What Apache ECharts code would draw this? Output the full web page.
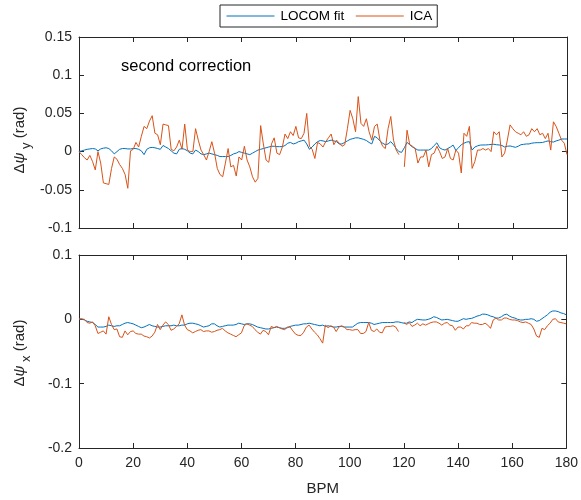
<!DOCTYPE html>
<html>
<head>
<meta charset="utf-8">
<script src="https://cdn.jsdelivr.net/npm/echarts@6/dist/echarts.min.js"></script>
<style>
  html, body { margin: 0; padding: 0; background: #fff; }
  #chart { width: 581px; height: 500px; }
</style>
</head>
<body>
<div id="chart"></div>
<script>
// Beam-position sampling grid (BPM index 0..180)
const bpm = Array.from({ length: 181 }, (_, i) => i);

// Vertical plane (Δψ_y), second correction
const locomY = [
  0, 0.001, 0.002, 0.003, 0.0035, 0.004, 0.0035, 0.001, 0.0035, 0.0045,
  0.005, 0.004, 0.001, -0.003, 0, 0.003, 0.004, 0.004, 0.0035, 0.0035,
  0.004, 0.004, 0.003, 0.001, -0.004, 0.003, 0.005, 0.0055, 0.005, 0.004,
  0.003, 0.008, 0.006, 0.004, 0.001, -0.002, -0.003, 0.003, 0.004, 0.003,
  0.001, -0.002, -0.003, 0.002, 0, -0.003, -0.004, -0.003, -0.002, -0.003,
  -0.004, -0.005, -0.0065, -0.0065, -0.0065, -0.0065, -0.005, -0.003, -0.002, 0,
  -0.001, -0.002, -0.003, -0.004, -0.002, 0, 0.002, 0.003, 0.004, 0.005,
  0.006, 0.007, 0.007, 0.0065, 0.0065, 0.0065, 0.008, 0.011, 0.012, 0.010,
  0.011, 0.013, 0.014, 0.015, 0.010, 0.003, 0.006, 0.010, 0.013, 0.0145,
  0.014, 0.013, 0.014, 0.015, 0.014, 0.013, 0.010, 0.010, 0.012, 0.014,
  0.016, 0.017, 0.018, 0.018, 0.017, 0.016, 0.0145, 0.012, 0.010, 0.020,
  0.018, 0.014, 0.011, 0.009, 0.010, 0.013, 0.009, 0.004, 0, -0.001,
  0.005, 0.012, 0.009, 0.006, 0.004, 0.002, 0.002, 0.002, 0.002, 0.002,
  0.004, 0.008, 0.0115, 0.005, 0.003, 0.002, 0.004, 0.006, 0.0085, 0.0015,
  0.005, 0.009, 0.011, 0.0125, 0.013, 0.002, 0.006, 0.0075, 0.0085, 0.0087,
  0.0087, 0.009, 0.0093, 0.0096, 0.009, 0.0087, 0.008, 0.006, 0.007, 0.0074,
  0.0065, 0.0056, 0.007, 0.009, 0.0095, 0.010, 0.010, 0.011, 0.0115, 0.0117,
  0.0117, 0.012, 0.013, 0.014, 0.013, 0.0125, 0.014, 0.015, 0.0165, 0.0165,
  0.0165
];
const icaY = [
  0, -0.004, -0.008, -0.011, -0.005, -0.013, -0.024, 0, -0.015, -0.041,
  -0.042, -0.043, -0.022, -0.007, -0.010, -0.017, -0.022, -0.030, -0.048, 0.001,
  0.003, 0.012, 0.006, 0.020, 0.033, 0.030, 0.040, 0.047, 0.024, 0.022,
  0.009, 0.036, 0.035, 0.034, 0.003, 0.001, 0.006, 0.015, 0.003, 0.036,
  0.002, 0, 0, 0.030, 0.015, 0.002, -0.004, -0.011, 0, 0.013,
  -0.002, -0.022, -0.030, -0.033, -0.015, 0.004, -0.020, -0.018, -0.032, -0.007,
  -0.011, 0.007, -0.011, -0.020, -0.033, -0.040, -0.035, 0.034, 0.010, -0.011,
  -0.014, 0.010, 0.018, -0.002, -0.004, 0.006, 0.023, 0.017, 0.026, 0.021,
  0.033, 0.018, 0.017, 0.024, 0.050, 0.007, 0.003, -0.009, 0.012, 0.010,
  0.006, 0.013, 0.018, 0.023, 0.009, 0.015, 0.011, 0.007, 0.009, 0.030,
  0.054, 0.043, 0.026, 0.072, 0.037, 0.033, 0.043, 0.026, 0.015, 0.033,
  0.036, 0.015, 0.007, 0.004, 0.030, 0.046, 0.015, 0.002, -0.004, null,
  -0.020, 0.028, 0.009, 0.007, 0.004, -0.015, -0.007, -0.007, 0.002, -0.020,
  -0.004, -0.002, 0.007, 0, -0.009, -0.007, 0.004, -0.009, -0.011, 0.002,
  -0.002, -0.028, 0.024, 0.020, 0.033, -0.022, -0.013, 0.002, 0.002, 0.004,
  0.002, 0.004, 0, 0.026, 0.022, 0.026, -0.007, -0.002, 0.015, 0.035,
  0.030, 0.026, 0.024, 0.022, 0.026, 0.020, 0.022, 0.030, 0.026, 0.030,
  0.022, 0.024, 0.017, 0.024, 0.002, 0.039, 0.033, 0.024, 0.015, 0.011,
  -0.004
];

// Horizontal plane (Δψ_x)
const locomX = [
  0.0005, 0.0005, -0.001, -0.003, -0.004, -0.005, -0.008, -0.012, -0.012, -0.012,
  -0.011, -0.009, -0.010, -0.011, -0.010, -0.010, -0.008, -0.006, -0.005, -0.006,
  -0.007, -0.009, -0.011, -0.013, -0.012, -0.010, -0.008, -0.010, -0.011, -0.012,
  -0.012, -0.011, -0.010, -0.010, -0.010, -0.009, -0.010, -0.010, -0.009, -0.009,
  -0.007, -0.006, -0.006, -0.007, -0.008, -0.010, -0.012, -0.011, -0.010, -0.007,
  -0.007, -0.010, -0.012, -0.011, -0.010, -0.009, -0.009, -0.009, -0.008, -0.006,
  -0.007, -0.008, -0.007, -0.007, -0.008, -0.010, -0.012, -0.013, -0.014, -0.015,
  -0.015, -0.014, -0.013, -0.012, -0.013, -0.014, -0.014, -0.013, -0.011, -0.010,
  -0.009, -0.009, -0.008, -0.007, -0.007, -0.006, -0.007, -0.008, -0.009, -0.010,
  -0.009, -0.011, -0.010, -0.011, -0.012, -0.012, -0.011, -0.011, -0.012, -0.012,
  -0.012, -0.012, -0.009, -0.006, -0.005, -0.005, -0.005, -0.005, -0.006, -0.008,
  -0.007, -0.006, -0.005, -0.005, -0.005, -0.005, -0.005, -0.004, -0.004, -0.005,
  -0.006, -0.006, -0.004, -0.005, -0.002, 0, -0.0005, -0.001, -0.001, 0,
  0.0015, 0.004, 0.003, 0.001, -0.001, -0.0005, 0, -0.001, -0.002, -0.003,
  -0.003, -0.001, 0.001, 0, 0.001, 0.0015, 0.003, 0.005, 0.006, 0.008,
  0.008, 0.007, 0.005, 0.004, 0.002, 0.002, 0.004, 0.007, 0.008, 0.005,
  0.003, 0.002, 0, -0.001, -0.001, 0, 0, 0.001, 0, -0.003,
  -0.002, 0.001, 0.004, 0.007, 0.011, 0.013, 0.013, 0.012, 0.010, 0.009,
  0.007
];
const icaX = [
  0.0005, 0.0005, 0, -0.005, -0.006, -0.004, -0.010, -0.022, -0.020, -0.018,
  -0.023, 0.004, -0.008, -0.016, -0.015, -0.027, -0.028, -0.018, -0.024, -0.019,
  -0.018, -0.022, -0.023, -0.023, -0.026, -0.027, -0.029, -0.026, -0.020, -0.008,
  -0.016, -0.009, -0.004, -0.008, -0.017, -0.015, -0.011, -0.007, 0.007, -0.009,
  -0.016, -0.018, -0.021, -0.019, -0.017, -0.016, -0.019, -0.018, -0.018, -0.020,
  -0.019, -0.017, -0.016, -0.014, -0.018, -0.021, -0.023, -0.025, -0.027, -0.024,
  -0.021, -0.010, -0.007, -0.009, -0.011, -0.016, -0.020, -0.023, -0.017, -0.019,
  -0.024, -0.011, -0.013, -0.011, -0.013, -0.015, -0.016, -0.012, -0.012, -0.018,
  -0.023, -0.025, -0.025, -0.020, -0.012, -0.009, -0.015, -0.020, -0.024, -0.030,
  -0.037, -0.009, -0.013, -0.010, -0.012, -0.019, -0.012, -0.010, -0.012, -0.016,
  -0.016, -0.017, -0.016, -0.016, -0.022, -0.022, -0.019, -0.005, -0.017, -0.019,
  -0.015, -0.020, -0.021, -0.012, -0.011, -0.011, -0.010, -0.012, -0.019, null,
  -0.005, -0.008, -0.005, -0.011, -0.009, -0.006, -0.010, -0.007, -0.009, -0.007,
  -0.005, -0.004, -0.004, -0.006, -0.009, -0.006, -0.005, -0.009, -0.010, -0.017,
  -0.012, -0.012, -0.015, -0.010, -0.010, -0.005, -0.006, -0.006, -0.008, -0.008,
  -0.006, -0.009, -0.014, -0.001, 0.002, -0.001, -0.001, 0.002, 0.002, 0,
  -0.001, -0.001, -0.002, -0.004, -0.005, -0.004, -0.006, -0.008, -0.015, -0.026,
  -0.028, -0.014, -0.016, -0.010, -0.006, 0, 0.001, -0.004, -0.005, -0.006,
  -0.007
];

const seriesNames = ['LOCOM fit', 'ICA'];
const xTicks = [0, 20, 40, 60, 80, 100, 120, 140, 160, 180];

const FONT = '"Liberation Sans", Arial, Helvetica, sans-serif';
const AXIS_COLOR = '#262626';
const BLUE = '#0072BD';
const ORANGE = '#D95319';

const chart = echarts.init(document.getElementById('chart'), null, { renderer: 'canvas' });

function pairs(values) {
  return values.map((v, i) => [bpm[i], v === null ? '-' : v]);
}

function fmt(v) {
  return String(+v.toFixed(3));
}

function xAxisCfg(grid, pos, labels) {
  return {
    type: 'value', gridIndex: grid, position: pos,
    min: xTicks[0], max: xTicks[xTicks.length - 1], interval: 20,
    axisLine: { show: true, onZero: false, lineStyle: { color: AXIS_COLOR, width: 1 } },
    axisTick: { show: true, inside: true, length: 5, lineStyle: { color: AXIS_COLOR } },
    axisLabel: { show: labels, color: AXIS_COLOR, fontSize: 14, fontFamily: FONT, margin: 8 },
    splitLine: { show: false },
    name: labels ? 'BPM' : '',
    nameLocation: 'middle', nameGap: 33,
    nameTextStyle: { color: AXIS_COLOR, fontSize: 15, fontFamily: FONT }
  };
}

function yAxisCfg(grid, pos, min, max, step, labels) {
  return {
    type: 'value', gridIndex: grid, position: pos,
    min: min, max: max, interval: step,
    axisLine: { show: true, onZero: false, lineStyle: { color: AXIS_COLOR, width: 1 } },
    axisTick: { show: true, inside: true, length: 5, lineStyle: { color: AXIS_COLOR } },
    axisLabel: { show: labels, color: AXIS_COLOR, fontSize: 14, fontFamily: FONT, margin: 7, formatter: fmt },
    splitLine: { show: false }
  };
}

function line(name, color, data, xi, yi) {
  return {
    name: name, type: 'line', xAxisIndex: xi, yAxisIndex: yi,
    data: pairs(data), symbol: 'none', connectNulls: false,
    lineStyle: { color: color, width: 1 }, itemStyle: { color: color },
    animation: false
  };
}

// Rotated y-axis title: Δψ with a lowered subscript, then "(rad)"
const measureCtx = document.createElement('canvas').getContext('2d');
function textWidth(t, font) { measureCtx.font = font; return measureCtx.measureText(t).width; }

function yTitle(cx, cy, sub) {
  const parts = [
    { t: 'Δ', font: '15px ' + FONT, dy: 0 },
    { t: 'ψ', font: 'italic 15px ' + FONT, dy: 0 },
    { t: ' ' + sub, font: '13px ' + FONT, dy: 6 },
    { t: ' (rad)', font: '15px ' + FONT, dy: 0 }
  ];
  const widths = parts.map(p => textWidth(p.t, p.font));
  const total = widths.reduce((a, b) => a + b, 0);
  let x = -total / 2;
  const children = parts.map((p, i) => {
    const el = {
      type: 'text',
      style: {
        text: p.t, x: x, y: p.dy, font: p.font, fill: AXIS_COLOR,
        align: 'left', verticalAlign: 'middle',
        textAlign: 'left', textVerticalAlign: 'middle'
      }
    };
    x += widths[i];
    return el;
  });
  return { type: 'group', x: cx, y: cy, rotation: Math.PI / 2, children: children };
}

const option = {
  backgroundColor: '#ffffff',
  animation: false,
  textStyle: { fontFamily: FONT },
  grid: [
    { left: 79, top: 37, width: 488, height: 191, containLabel: false },
    { left: 79, top: 255, width: 488, height: 193, containLabel: false }
  ],
  legend: {
    data: seriesNames,
    left: 220, top: 5,
    orient: 'horizontal',
    itemWidth: 48, itemHeight: 14, itemGap: 11,
    padding: [4, 5, 4, 6],
    borderColor: AXIS_COLOR, borderWidth: 1,
    backgroundColor: '#ffffff',
    itemStyle: { opacity: 0 },
    lineStyle: { width: 1 },
    textStyle: { color: '#000', fontSize: 13.5, fontFamily: FONT, padding: [0, 0, 0, 1] }
  },
  xAxis: [
    xAxisCfg(0, 'bottom', false),
    xAxisCfg(0, 'top', false),
    xAxisCfg(1, 'bottom', true),
    xAxisCfg(1, 'top', false)
  ],
  yAxis: [
    yAxisCfg(0, 'left', -0.1, 0.15, 0.05, true),
    yAxisCfg(0, 'right', -0.1, 0.15, 0.05, false),
    yAxisCfg(1, 'left', -0.2, 0.1, 0.1, true),
    yAxisCfg(1, 'right', -0.2, 0.1, 0.1, false)
  ],
  series: [
    line(seriesNames[0], BLUE, locomY, 0, 0),
    line(seriesNames[1], ORANGE, icaY, 0, 0),
    line(seriesNames[0], BLUE, locomX, 2, 2),
    line(seriesNames[1], ORANGE, icaX, 2, 2)
  ],
  graphic: [
    {
      type: 'text',
      style: {
        text: 'second correction', x: 121, y: 66, font: '16.5px ' + FONT, fill: '#000',
        align: 'left', verticalAlign: 'middle', textAlign: 'left', textVerticalAlign: 'middle'
      }
    },
    yTitle(20, 140, 'y'),
    yTitle(20, 353, 'x')
  ]
};

chart.setOption(option);
</script>
</body>
</html>
